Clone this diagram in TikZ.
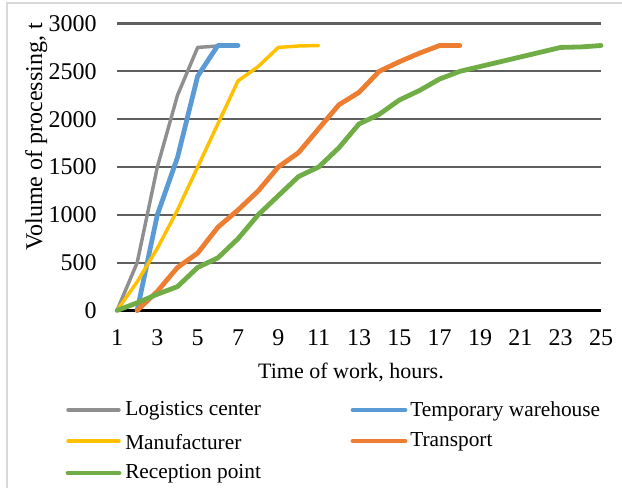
\documentclass[tikz,border=0pt]{standalone}
\usepackage{fontspec}
\setmainfont{Liberation Serif}
\definecolor{cgray}{HTML}{8F8F8F}
\definecolor{cblue}{HTML}{5B9BD5}
\definecolor{cyellow}{HTML}{FFC000}
\definecolor{corange}{HTML}{ED7D31}
\definecolor{cgreen}{HTML}{70AD47}
\definecolor{cgrid}{HTML}{5F5F5F}
\definecolor{cframe}{HTML}{D9D9D9}
\tikzset{
  lbl/.style={inner sep=0pt, font=\fontsize{16}{19}\selectfont},
  ticklbl/.style={inner sep=0pt, font=\fontsize{18}{21}\selectfont},
  titlelbl/.style={inner sep=0pt, font=\fontsize{16.5}{20}\selectfont},
  ytitlelbl/.style={inner sep=0pt, font=\fontsize{18}{21}\selectfont},
  gridln/.style={draw=cgrid, line width=1.6pt},
  series/.style={line cap=round, line join=round},
  thin series/.style={series, line width=2.6pt},
  thick series/.style={series, line width=3.6pt},
}
\begin{document}
\begin{tikzpicture}[x=0.75pt,y=-0.75pt]
\useasboundingbox (0,0) rectangle (622,488);
% frame (top and left edges visible)
\draw[cframe, line width=1.5pt] (622,3) -- (7,3) -- (7,488);
% gridlines
\foreach \v/\py in {500/262.7,1000/214.8,1500/167.0,2000/119.2,2500/71.3,3000/23.5}{
  \draw[gridln] (117,\py) -- (601,\py);
  \node[ticklbl, anchor=east] (yl\v) at (97,\py) {\v};
}
\draw[black, line width=1.6pt] (117,310.5) -- (601,310.5);
\node[ticklbl, anchor=east] (yl0) at (97,311) {0};
\foreach \t in {1,3,...,25}{
  \node[ticklbl] (xl\t) at ({117+(\t-1)*20.167},338) {\t};
}
\node[titlelbl] (xtitle) at (351,372) {Time of work, hours.};
\node[ytitlelbl, rotate=90, anchor=base east] (ytitle) at (42,23) {Volume of processing, t};
% data
\begin{scope}[shift={(96.833,310.5)}, x=15.125pt, y=0.071753pt]
\draw[cgray, thin series] (1,0) -- (2,500) -- (3,1500) -- (4,2250) -- (5,2750) -- (6,2765) -- (7,2770);
\draw[cblue, thick series] (2,0) -- (3,1000) -- (4,1600) -- (5,2450) -- (6,2770) -- (7,2770);
\draw[cyellow, thin series] (1,0) -- (2,300) -- (3,650) -- (4,1050) -- (5,1500) -- (6,1950) -- (7,2400) -- (8,2550) -- (9,2750) -- (10,2765) -- (11,2770);
\draw[corange, thick series] (2,0) -- (3,200) -- (4,450) -- (5,600) -- (6,870) -- (7,1050) -- (8,1250) -- (9,1500) -- (10,1650) -- (11,1900) -- (12,2150) -- (13,2280) -- (14,2500) -- (15,2600) -- (16,2690) -- (17,2770) -- (18,2770);
\draw[cgreen, thick series] (1,0) -- (2,80) -- (3,170) -- (4,250) -- (5,450) -- (6,550) -- (7,750) -- (8,1000) -- (9,1200) -- (10,1400) -- (11,1500) -- (12,1700) -- (13,1950) -- (14,2050) -- (15,2200) -- (16,2300) -- (17,2420) -- (18,2500) -- (19,2550) -- (20,2600) -- (21,2650) -- (22,2700) -- (23,2750) -- (24,2755) -- (25,2770);
\end{scope}
% legend
\coordinate (lg1a) at (68,410); \coordinate (lg1b) at (119,410);
\coordinate (lg2a) at (353,410); \coordinate (lg2b) at (405,410);
\coordinate (lg3a) at (68,441); \coordinate (lg3b) at (119,441);
\coordinate (lg4a) at (353,441); \coordinate (lg4b) at (405,441);
\coordinate (lg5a) at (68,473); \coordinate (lg5b) at (119,473);
\draw[cgray, thin series] (lg1a) -- (lg1b);
\draw[cblue, thick series] (lg2a) -- (lg2b);
\draw[cyellow, thin series] (lg3a) -- (lg3b);
\draw[corange, thick series] (lg4a) -- (lg4b);
\draw[cgreen, thick series] (lg5a) -- (lg5b);
\node[lbl, anchor=west] (lt1) at (125,411) {Logistics center};
\node[lbl, anchor=west] (lt2) at (410,411) {Temporary warehouse};
\node[lbl, anchor=west] (lt3) at (125,442) {Manufacturer};
\node[lbl, anchor=west] (lt4) at (410,442) {Transport};
\node[lbl, anchor=west] (lt5) at (125,474) {Reception point};
\end{tikzpicture}
\end{document}
